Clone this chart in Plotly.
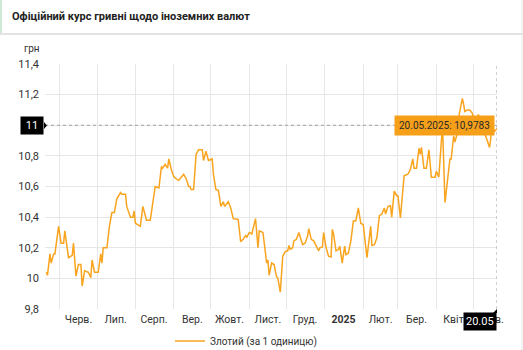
import plotly.graph_objects as go

# Official NBU rate of the Polish zloty (UAH per 1 PLN)
dates = [
    "2024-05-21", "2024-05-22", "2024-05-24", "2024-05-25", "2024-05-27", "2024-05-28", "2024-05-31",
    "2024-06-02", "2024-06-04", "2024-06-05", "2024-06-08", "2024-06-11", "2024-06-12", "2024-06-14",
    "2024-06-16", "2024-06-18", "2024-06-19", "2024-06-21", "2024-06-24", "2024-06-26", "2024-06-27",
    "2024-06-29", "2024-07-02", "2024-07-04", "2024-07-05", "2024-07-06", "2024-07-09", "2024-07-11",
    "2024-07-13", "2024-07-15", "2024-07-17", "2024-07-20", "2024-07-21", "2024-07-24", "2024-07-25",
    "2024-07-28", "2024-07-30", "2024-07-31", "2024-08-01", "2024-08-03", "2024-08-05", "2024-08-07",
    "2024-08-10", "2024-08-13", "2024-08-15", "2024-08-17", "2024-08-20", "2024-08-22", "2024-08-23",
    "2024-08-25", "2024-08-27", "2024-08-28", "2024-08-30", "2024-09-01", "2024-09-03", "2024-09-05",
    "2024-09-07", "2024-09-09", "2024-09-11", "2024-09-13", "2024-09-14", "2024-09-15", "2024-09-17",
    "2024-09-19", "2024-09-21", "2024-09-24", "2024-09-25", "2024-09-27", "2024-09-29", "2024-10-02",
    "2024-10-03", "2024-10-05", "2024-10-07", "2024-10-09", "2024-10-11", "2024-10-12", "2024-10-15",
    "2024-10-17", "2024-10-19", "2024-10-23", "2024-10-25", "2024-10-27", "2024-10-29", "2024-10-30",
    "2024-11-01", "2024-11-03", "2024-11-06", "2024-11-08", "2024-11-09", "2024-11-12", "2024-11-15",
    "2024-11-16", "2024-11-17", "2024-11-19", "2024-11-21", "2024-11-23", "2024-11-24", "2024-11-26",
    "2024-11-28", "2024-11-30", "2024-12-02", "2024-12-03", "2024-12-04", "2024-12-06", "2024-12-07",
    "2024-12-09", "2024-12-11", "2024-12-12", "2024-12-14", "2024-12-16", "2024-12-18", "2024-12-19",
    "2024-12-21", "2024-12-23", "2024-12-25", "2024-12-27", "2024-12-28", "2024-12-30", "2024-12-31",
    "2025-01-02", "2025-01-04", "2025-01-06", "2025-01-07", "2025-01-08", "2025-01-10", "2025-01-12",
    "2025-01-13", "2025-01-15", "2025-01-17", "2025-01-18", "2025-01-20", "2025-01-22", "2025-01-24",
    "2025-01-26", "2025-01-28", "2025-01-30", "2025-02-01", "2025-02-02", "2025-02-04", "2025-02-07",
    "2025-02-08", "2025-02-10", "2025-02-12", "2025-02-14", "2025-02-16", "2025-02-18", "2025-02-19",
    "2025-02-21", "2025-02-23", "2025-02-24", "2025-02-26", "2025-02-28", "2025-03-01", "2025-03-03",
    "2025-03-06", "2025-03-09", "2025-03-11", "2025-03-13", "2025-03-14", "2025-03-16", "2025-03-18",
    "2025-03-19", "2025-03-20", "2025-03-22", "2025-03-24", "2025-03-26", "2025-03-28", "2025-03-31",
    "2025-04-01", "2025-04-03", "2025-04-05", "2025-04-06", "2025-04-08", "2025-04-10", "2025-04-12",
    "2025-04-13", "2025-04-15", "2025-04-16", "2025-04-18", "2025-04-19", "2025-04-22", "2025-04-23",
    "2025-04-24", "2025-04-26", "2025-04-28", "2025-04-30", "2025-05-02", "2025-05-05", "2025-05-07",
    "2025-05-10", "2025-05-12", "2025-05-14", "2025-05-16", "2025-05-18", "2025-05-20",
]
rates = [
    10.04, 10.02, 10.16, 10.10, 10.16, 10.16, 10.34,
    10.23, 10.23, 10.31, 10.135, 10.15, 10.23, 10.015,
    10.09, 10.09, 9.95, 10.05, 10.04, 10.005, 10.12,
    10.04, 10.04, 10.16, 10.10, 10.20, 10.20, 10.34,
    10.43, 10.43, 10.52, 10.56, 10.55, 10.55, 10.47,
    10.40, 10.40, 10.44, 10.36, 10.35, 10.34, 10.47,
    10.38, 10.38, 10.49, 10.60, 10.59, 10.73, 10.72,
    10.745, 10.72, 10.78, 10.71, 10.665, 10.65, 10.64,
    10.66, 10.68, 10.65, 10.60, 10.60, 10.58, 10.58,
    10.81, 10.84, 10.84, 10.77, 10.83, 10.77, 10.78,
    10.68, 10.58, 10.575, 10.47, 10.50, 10.47, 10.50,
    10.46, 10.39, 10.385, 10.24, 10.255, 10.28, 10.27,
    10.30, 10.29, 10.39, 10.20, 10.31, 10.30, 10.10,
    10.12, 10.02, 10.10, 10.09, 10.01, 10.005, 9.91,
    10.145, 10.175, 10.18, 10.215, 10.19, 10.20, 10.245,
    10.255, 10.30, 10.27, 10.22, 10.23, 10.275, 10.325,
    10.255, 10.245, 10.21, 10.18, 10.20, 10.205, 10.30,
    10.20, 10.145, 10.14, 10.32, 10.29, 10.18, 10.19,
    10.21, 10.10, 10.21, 10.155, 10.165, 10.245, 10.375,
    10.375, 10.46, 10.36, 10.35, 10.29, 10.135, 10.34,
    10.215, 10.22, 10.265, 10.41, 10.42, 10.46, 10.42,
    10.47, 10.475, 10.40, 10.57, 10.54, 10.54, 10.395,
    10.67, 10.68, 10.71, 10.78, 10.72, 10.72, 10.85,
    10.81, 10.855, 10.72, 10.72, 10.84, 10.66, 10.66,
    10.70, 10.66, 10.93, 11.00, 10.495, 10.65, 10.78,
    10.78, 10.93, 10.89, 10.95, 11.05, 11.175, 11.14,
    11.09, 11.10, 11.10, 11.08, 11.02, 11.07, 11.00,
    10.95, 10.90, 10.855, 10.985, 10.96, 10.9783,
]

series_name = "Злотий (за 1 одиницю)"

# y axis ticks
y_ticks = [9.8, 10.0, 10.2, 10.4, 10.6, 10.8, 11.0, 11.2, 11.4]
y_tick_text = ["9,8", "10", "10,2", "10,4", "10,6", "10,8", "11", "11,2", "11,4"]

# month boundaries (grid) and month labels (mid-month)
month_starts = [
    "2024-06-01", "2024-07-01", "2024-08-01", "2024-09-01", "2024-10-01", "2024-11-01",
    "2024-12-01", "2025-01-01", "2025-02-01", "2025-03-01", "2025-04-01", "2025-05-01",
]
month_mids = [
    "2024-06-16", "2024-07-16", "2024-08-16", "2024-09-16", "2024-10-16", "2024-11-16",
    "2024-12-16", "2025-01-16", "2025-02-15", "2025-03-16", "2025-04-16", "2025-05-15",
]
month_labels = [
    "Черв.", "Лип.", "Серп.", "Вер.", "Жовт.", "Лист.",
    "Груд.", "<b>2025</b>", "Лют.", "Бер.", "Квіт.", "Трав.",
]

x_range = ["2024-05-20", "2025-05-20"]
cross_y = 11.0

LINE = "#F9A41E"
TIP = "#F6A01A"
GRID = "#E6E6E6"
TEXT = "#333333"
FONT = "Roboto"

W, H = 523, 350
ML, MR, MT, MB = 45, 26, 64, 41
PW, PH = W - ML - MR, H - MT - MB


def px(xp):
    return (xp - ML) / PW


def py(yp):
    return (H - MB - yp) / PH


fig = go.Figure()
fig.add_trace(go.Scatter(
    x=dates, y=rates, mode="lines", name=series_name,
    line=dict(color=LINE, width=1.5),
    showlegend=True,
))
# empty trace carrying the month-label axis
fig.add_trace(go.Scatter(x=x_range, y=[None, None], xaxis="x2", showlegend=False,
                         hoverinfo="skip"))

last_date = dates[-1]
last_val = rates[-1]
d_last = last_date.split("-")
tip_text = f"{d_last[2]}.{d_last[1]}.{d_last[0]}: {str(last_val).replace('.', ',')}"
short_text = f"{d_last[2]}.{d_last[1]}"

shapes = [
    # header card
    dict(type="line", xref="paper", yref="paper", x0=px(0), x1=px(W), y0=py(34), y1=py(34),
         line=dict(color="#E3E3E3", width=2)),
    dict(type="line", xref="paper", yref="paper", x0=px(1), x1=px(1), y0=py(33), y1=py(0),
         line=dict(color="#CFE8D6", width=2)),
    dict(type="line", xref="paper", yref="paper", x0=px(522), x1=px(522), y0=py(H), y1=py(0),
         line=dict(color="#E6E6E6", width=1)),
    # crosshair
    dict(type="line", xref="paper", yref="y", x0=0, x1=1, y0=cross_y, y1=cross_y,
         line=dict(color="#A0A0A0", width=1, dash="dot")),
    dict(type="line", xref="x", yref="paper", x0=last_date, x1=last_date, y0=0, y1=1,
         line=dict(color="#A0A0A0", width=1, dash="dot")),
    # pointer of the y label
    dict(type="path", xref="paper", yref="paper",
         path=f"M {px(44)} {py(122)} L {px(47)} {py(125.5)} L {px(44)} {py(129)} Z",
         fillcolor="black", line=dict(width=0)),
    # pointer of the x label
    dict(type="path", xref="paper", yref="paper",
         path=f"M {px(493)} {py(313)} L {px(497)} {py(309)} L {px(497)} {py(313)} Z",
         fillcolor="black", line=dict(width=0)),
]

annotations = [
    dict(text="<b>Офіційний курс гривні щодо іноземних валют</b>", xref="paper", yref="paper",
         x=px(10), y=py(17), xanchor="left", yanchor="middle", showarrow=False,
         font=dict(family=FONT, size=11, color="#222222")),
    dict(text="грн", xref="paper", yref="paper", x=px(22), y=py(48), xanchor="left",
         yanchor="middle", showarrow=False, font=dict(family=FONT, size=10, color=TEXT)),
    dict(text=y_tick_text[y_ticks.index(cross_y)], xref="paper", yref="y", x=px(44), y=cross_y,
         xanchor="right", yanchor="middle", showarrow=False, bgcolor="black",
         font=dict(family=FONT, size=11, color="white"), borderpad=2, width=18),
    dict(text=short_text, xref="x", yref="paper", x=last_date, y=py(312), xanchor="right",
         yanchor="top", showarrow=False, bgcolor="black",
         font=dict(family=FONT, size=11, color="white"), borderpad=2),
    dict(text=tip_text, xref="x", yref="y", x=last_date, y=last_val, xanchor="right",
         yanchor="middle", xshift=-2, yshift=3, showarrow=False, bgcolor=TIP,
         font=dict(family=FONT, size=10, color="#2A2A2A"), borderpad=4),
]

fig.update_layout(
    width=W, height=H,
    margin=dict(l=ML, r=MR, t=MT, b=MB, autoexpand=False),
    paper_bgcolor="white", plot_bgcolor="white",
    font=dict(family=FONT, size=11, color=TEXT),
    separators=", ",
    xaxis=dict(
        type="date", range=x_range, tickvals=month_starts,
        ticktext=[""] * len(month_starts), showgrid=True, gridcolor=GRID, gridwidth=1,
        zeroline=False, showline=False, ticks="", fixedrange=True,
    ),
    xaxis2=dict(
        type="date", range=x_range, overlaying="x", side="bottom", anchor="y",
        tickvals=month_mids, ticktext=month_labels, showgrid=False, zeroline=False,
        showline=False, ticks="", tickfont=dict(family=FONT, size=10.5, color=TEXT),
        ticklabelstandoff=2,
    ),
    yaxis=dict(
        range=[9.8, 11.4], tickvals=y_ticks, ticktext=y_tick_text, showgrid=True,
        gridcolor=GRID, gridwidth=1, zeroline=False, showline=False, ticks="",
        tickfont=dict(family=FONT, size=11, color=TEXT), ticklabelstandoff=5,
    ),
    legend=dict(
        orientation="h", x=px(246), xanchor="center", y=py(341), yanchor="middle",
        font=dict(family=FONT, size=10, color=TEXT), bgcolor="rgba(0,0,0,0)",
        itemwidth=30,
    ),
    shapes=shapes,
    annotations=annotations,
)

fig.write_html("out.html")
